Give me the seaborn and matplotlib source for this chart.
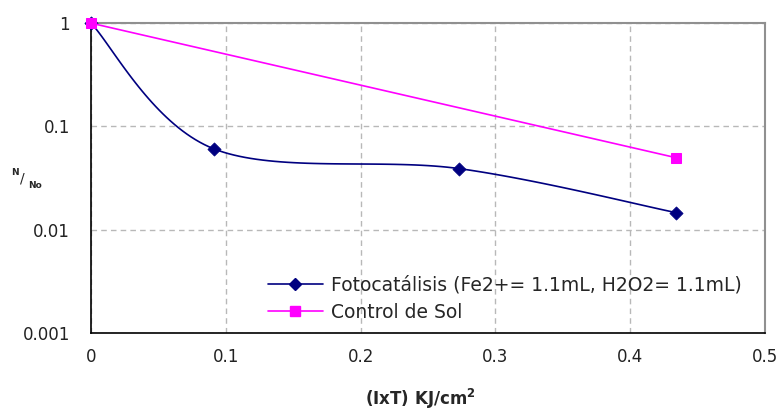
import matplotlib
matplotlib.use("Agg")
import matplotlib.pyplot as plt
from matplotlib.lines import Line2D
import seaborn as sns
import numpy as np
import pandas as pd

# data
foto_x = [0.0, 0.091, 0.273, 0.434]
foto_y = [1.0, 0.0607, 0.039, 0.0146]
sol_x = [0.0, 0.434]
sol_y = [1.0, 0.0497]

foto_label = "Fotocatálisis (Fe2+= 1.1mL, H2O2= 1.1mL)"
sol_label = "Control de Sol"
x_ticks = [0, 0.1, 0.2, 0.3, 0.4, 0.5]
x_ticklabels = ["0", "0.1", "0.2", "0.3", "0.4", "0.5"]
y_ticks = [0.001, 0.01, 0.1, 1]
y_ticklabels = ["0.001", "0.01", "0.1", "1"]

BLUE = "#000080"
MAGENTA = "#FF00FF"


def excel_smooth(xs, ys, n=40):
    # Excel-like smoothed line (Catmull-Rom Bezier), done in x / log10(y) space
    pts = np.column_stack([xs, np.log10(ys)])
    out = []
    for i in range(len(pts) - 1):
        p0 = pts[max(i - 1, 0)]
        p1 = pts[i]
        p2 = pts[i + 1]
        p3 = pts[min(i + 2, len(pts) - 1)]
        c1 = p1 + (p2 - p0) / 6
        c2 = p2 - (p3 - p1) / 6
        t = np.linspace(0, 1, n)[:, None]
        seg = ((1 - t) ** 3) * p1 + 3 * ((1 - t) ** 2) * t * c1 + 3 * (1 - t) * t ** 2 * c2 + t ** 3 * p2
        out.append(seg if i == 0 else seg[1:])
    out = np.vstack(out)
    return out[:, 0], 10 ** out[:, 1]


sns.set_style("white")
plt.rcParams["font.family"] = ["DejaVu Sans"]

fig = plt.figure(figsize=(7.84, 4.13), dpi=100)
ax = fig.add_axes([0.116, 0.194, 0.86, 0.750])

sx, sy = excel_smooth(foto_x, foto_y)
curve = pd.DataFrame({"x": sx, "y": sy})
sns.lineplot(data=curve, x="x", y="y", ax=ax, color=BLUE, lw=1.2, sort=False)
foto = pd.DataFrame({"x": foto_x, "y": foto_y})
sns.scatterplot(data=foto, x="x", y="y", ax=ax, color=BLUE, marker="D", s=45,
                edgecolor=BLUE, zorder=5, clip_on=False)

sol = pd.DataFrame({"x": sol_x, "y": sol_y})
sns.lineplot(data=sol, x="x", y="y", ax=ax, color=MAGENTA, lw=1.2, marker="s",
             markersize=7, markeredgecolor=MAGENTA, zorder=6, clip_on=False)

ax.set_yscale("log")
ax.set_xlim(0, 0.5)
ax.set_ylim(0.001, 1)
ax.set_xticks(x_ticks)
ax.set_xticklabels(x_ticklabels)
ax.set_yticks(y_ticks)
ax.set_yticklabels(y_ticklabels)
ax.yaxis.set_minor_locator(matplotlib.ticker.NullLocator())

ax.grid(True, color="#b8b8b8", linestyle=(0, (4, 3)), lw=1)
for s in ["left", "bottom"]:
    ax.spines[s].set_color("black")
    ax.spines[s].set_linewidth(1.2)
for s in ["top", "right"]:
    ax.spines[s].set_color("#909090")
    ax.spines[s].set_linewidth(1.5)
ax.tick_params(axis="x", direction="out", length=3.6, width=1.2, labelsize=12, pad=7,
               colors="black", labelcolor="#222222")
ax.tick_params(axis="y", direction="out", length=4.5, width=1.2, labelsize=12, pad=10.5,
               colors="black", labelcolor="#222222")

ax.set_xlabel("")
ax.set_ylabel("")
fig.text(0.536, 0.035, "(IxT) KJ/cm$^{\\mathbf{2}}$", ha="center", va="center",
         fontsize=12, fontweight="bold")

# y label drawn as N / No
fig.text(0.019, 0.582, "N", fontsize=6.5, fontweight="bold", ha="center", va="center")
fig.text(0.028, 0.567, "/", fontsize=10, ha="center", va="center")
fig.text(0.045, 0.550, "No", fontsize=6.5, fontweight="bold", ha="center", va="center")

handles = [
    Line2D([], [], color=BLUE, lw=1.2, marker="D", markersize=6),
    Line2D([], [], color=MAGENTA, lw=1.2, marker="s", markersize=7),
]
fig.legend(handles, [foto_label, sol_label], loc="center left",
           bbox_to_anchor=(0.342, 0.277), frameon=False, fontsize=13.5,
           handlelength=2.9, handletextpad=0.43, labelspacing=0.45,
           borderpad=0, borderaxespad=0)

plt.savefig("out.png", dpi=100)
plt.close()
